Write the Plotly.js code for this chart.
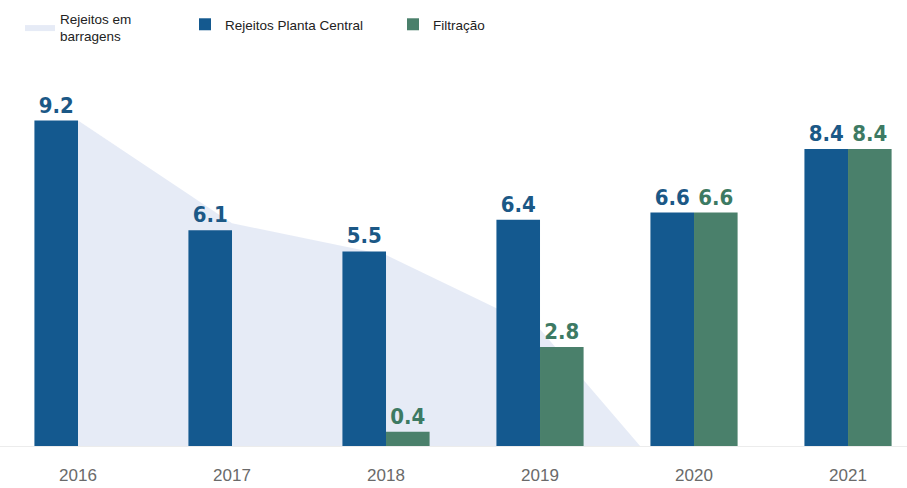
<!DOCTYPE html>
<html>
<head>
<meta charset="utf-8">
<script src="https://cdn.plot.ly/plotly-3.0.1.min.js"></script>
<style>
  html, body { margin: 0; padding: 0; background: #ffffff; }
  #chart { width: 907px; height: 488px; }
</style>
</head>
<body>
<div id="chart"></div>
<script>
// Data
const years = [2016, 2017, 2018, 2019, 2020, 2021];
const yearLabels = ["2016", "2017", "2018", "2019", "2020", "2021"];
const plantaCentral = [9.2, 6.1, 5.5, 6.4, 6.6, 8.4];
const filtracaoYears = [2018, 2019, 2020, 2021];
const filtracao = [0.4, 2.8, 6.6, 8.4];
const barragensYears = [2016, 2017, 2018, 2019, 2019.65];
const barragens = [9.2, 6.3, 5.4, 3.3, 0];

const blue = "#14598f";
const green = "#4a806b";
const blueText = "#1b5886";
const greenText = "#3d7a63";
const labelFont = "DejaVu Sans Condensed, Liberation Sans Narrow, sans-serif";
const barW = 0.283;
const xRange = [2015.4935, 2021.383];
const yRange = [0, 11.14];

const traces = [
  {
    type: "scatter",
    name: "Rejeitos em<br>barragens",
    x: barragensYears,
    y: barragens,
    xaxis: "x",
    yaxis: "y",
    mode: "lines",
    line: { width: 0, color: "#e3e8f2" },
    fill: "tozeroy",
    fillcolor: "rgba(226,232,244,0.85)",
    legend: "legend",
    hoverinfo: "skip"
  },
  {
    type: "bar",
    name: "Rejeitos Planta Central",
    x: years,
    y: plantaCentral,
    xaxis: "x2",
    yaxis: "y2",
    width: barW,
    offset: -barW,
    marker: { color: blue },
    text: plantaCentral.map(v => v.toFixed(1)),
    textposition: "outside",
    textfont: { family: labelFont, size: 22, color: blueText, weight: "bold" },
    cliponaxis: false,
    legend: "legend2"
  },
  {
    type: "bar",
    name: "Filtração",
    x: filtracaoYears,
    y: filtracao,
    xaxis: "x2",
    yaxis: "y2",
    width: barW,
    offset: 0,
    marker: { color: green },
    text: filtracao.map(v => v.toFixed(1)),
    textposition: "outside",
    textfont: { family: labelFont, size: 22, color: greenText, weight: "bold" },
    cliponaxis: false,
    legend: "legend3"
  }
];

const legendBase = {
  orientation: "h",
  xref: "container",
  yref: "container",
  yanchor: "top",
  xanchor: "left",
  bgcolor: "rgba(0,0,0,0)",
  font: { family: "Liberation Sans, Arial, sans-serif", size: 13.5, color: "#222222" },
  itemclick: false,
  itemdoubleclick: false
};

const layout = {
  width: 907,
  height: 488,
  margin: { l: 0, r: 0, t: 50, b: 42 },
  paper_bgcolor: "#ffffff",
  plot_bgcolor: "#ffffff",
  barmode: "overlay",
  showlegend: true,
  xaxis: {
    range: xRange,
    tickvals: years,
    ticktext: yearLabels,
    showgrid: false,
    zeroline: false,
    showline: true,
    linecolor: "#ececec",
    linewidth: 1,
    ticks: "",
    ticklabelstandoff: 14,
    tickfont: { family: "Liberation Sans, Arial, sans-serif", size: 17, color: "#6a6a6a" }
  },
  yaxis: {
    range: yRange,
    visible: false,
    showgrid: false,
    zeroline: false
  },
  xaxis2: {
    range: xRange,
    overlaying: "x",
    visible: false,
    showgrid: false,
    zeroline: false
  },
  yaxis2: {
    range: yRange,
    overlaying: "y",
    visible: false,
    showgrid: false,
    zeroline: false
  },
  legend: Object.assign({}, legendBase, { x: 20 / 907, y: 1 - 3 / 488 }),
  legend2: Object.assign({}, legendBase, { x: 185 / 907, y: 1 - 9 / 488 }),
  legend3: Object.assign({}, legendBase, { x: 393 / 907, y: 1 - 9 / 488 })
};

Plotly.newPlot("chart", traces, layout, { displayModeBar: false, staticPlot: true });
</script>
</body>
</html>
